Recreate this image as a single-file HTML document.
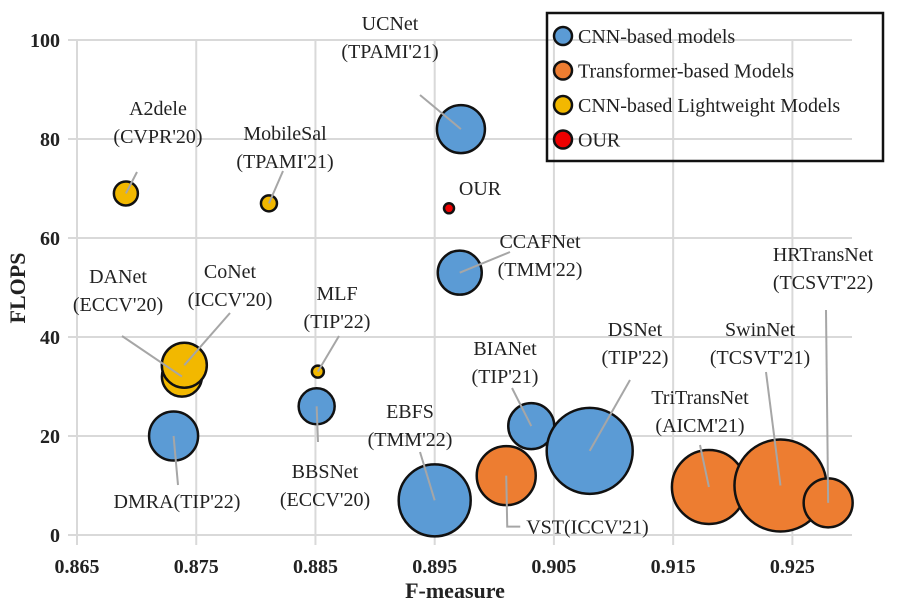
<!DOCTYPE html>
<html><head><meta charset="utf-8"><style>
body{margin:0;background:#fff}
svg{display:block;font-family:"Liberation Serif",serif}
.lbl{font-size:20px;fill:#222;text-anchor:middle}
.tk{font-size:20px;font-weight:bold;fill:#222}
</style></head><body>
<svg id="chart" width="897" height="606"></svg>
<script>
const names=["UCNet","CCAFNet","DMRA","BBSNet","EBFS","BIANet","DSNet","VST","TriTransNet","SwinNet","HRTransNet","A2dele","MobileSal","MLF","DANet","CoNet","OUR"];
const groups=["cnn","cnn","cnn","cnn","cnn","cnn","cnn","tr","tr","tr","tr","lw","lw","lw","lw","lw","our"];
const fmeasure=[0.8972,0.8971,0.8731,0.8851,0.8950,0.9031,0.9080,0.9010,0.9180,0.9240,0.9280,0.8691,0.8811,0.8852,0.8738,0.8740,0.8962];
const flops=[82,53,20,26,7,22,17,12,9.7,10,6.5,69,67,33,32,34.3,66];
const sizes=[24,22,24.5,18,36,23,43,29.5,37,46,24.5,12,8,6,20,22.5,5];
const xTicks=[0.865,0.875,0.885,0.895,0.905,0.915,0.925];
const yTicks=[0,20,40,60,80,100];
const colors={cnn:"#5b9bd5",tr:"#ed7d31",lw:"#f2b800",our:"#ee0000"};
const labels=[
 ["UCNet","(TPAMI'21)",390,30,[420,95]],
 ["CCAFNet","(TMM'22)",540,248,[510,252]],
 ["DMRA(TIP'22)",null,177,508,[178,485]],
 ["BBSNet","(ECCV'20)",325,478,[318,442]],
 ["EBFS","(TMM'22)",410,418,[420,452]],
 ["BIANet","(TIP'21)",505,355,[512,388]],
 ["DSNet","(TIP'22)",635,336,[630,380]],
 ["VST(ICCV'21)",null,0,0,null],
 ["TriTransNet","(AICM'21)",700,404,[700,445]],
 ["SwinNet","(TCSVT'21)",760,336,[766,372]],
 ["HRTransNet","(TCSVT'22)",823,261,[826,310]],
 ["A2dele","(CVPR'20)",158,115,[137,172]],
 ["MobileSal","(TPAMI'21)",285,140,[283,171]],
 ["MLF","(TIP'22)",337,300,[339,336]],
 ["DANet","(ECCV'20)",118,283,[122,336]],
 ["CoNet","(ICCV'20)",230,278,[230,313]],
 ["OUR",null,480,195,null]
];
const X0=77,X1=852,Y0=535,Y1=40;
const xs=v=>X0+(v-0.865)/(0.930-0.865)*(X1-X0);
const ys=v=>Y0-(v/100)*(Y0-Y1);
const svg=document.getElementById('chart');
const NS="http://www.w3.org/2000/svg";
function mk(t,a,p){const e=document.createElementNS(NS,t);for(const k in a)e.setAttribute(k,a[k]);(p||svg).appendChild(e);return e;}
yTicks.forEach(v=>{
 const l=mk('line',{x1:X0-9,x2:X1,y1:ys(v),y2:ys(v),stroke:'#d9d9d9','stroke-width':2});
 
 
 const t=mk('text',{x:X0-17,y:ys(v)+7,'text-anchor':'end',class:'tk'});t.textContent=v;
 
 
});
xTicks.forEach(v=>{
 const l=mk('line',{x1:xs(v),x2:xs(v),y1:Y1,y2:Y0+10,stroke:'#d9d9d9','stroke-width':2});
 
 
 const t=mk('text',{x:xs(v),y:Y0+38,'text-anchor':'middle',class:'tk'});t.textContent=v.toFixed(3);
 
 
});
names.forEach((n,i)=>{
 const c=mk('circle',{cx:xs(fmeasure[i]),cy:ys(flops[i]),r:sizes[i],fill:colors[groups[i]],stroke:'#111','stroke-width':2.5});
 
 
});
labels.forEach((L,i)=>{
 const cx=xs(fmeasure[i]),cy=ys(flops[i]);
 if(L[0].startsWith('VST')){
  const p=mk('polyline',{points:`${cx},${cy} ${cx+1},${cy+51} ${cx+14},${cy+51}`,fill:'none',stroke:'#a6a6a6','stroke-width':2});
  
  
  const t=mk('text',{x:cx+20,y:cy+58,class:'lbl'});t.textContent=L[0];
  t.style.textAnchor='start';
  
  
  return;
 }
 if(L[4]){
  const p=mk('line',{x1:L[4][0],y1:L[4][1],x2:cx,y2:cy,stroke:'#a6a6a6','stroke-width':2});
  
  
 }
 const t=mk('text',{x:L[2],y:L[3],class:'lbl'});t.textContent=L[0];
 
 
 if(L[1]){const t2=mk('text',{x:L[2],y:L[3]+28,class:'lbl'});t2.textContent=L[1];
 
 }
});
const xt=mk('text',{x:455,y:598,'text-anchor':'middle','font-size':'22','font-weight':'bold',fill:'#222'});xt.textContent='F-measure';


const yt=mk('text',{x:0,y:0,'text-anchor':'middle','font-size':'22','font-weight':'bold',fill:'#222',transform:'translate(25,288) rotate(-90)'});yt.textContent='FLOPS';


const lg=mk('rect',{x:547,y:13,width:336,height:148,fill:'none',stroke:'#111','stroke-width':2.5});


const legendLabels=["CNN-based models","Transformer-based Models","CNN-based Lightweight Models","OUR"];
const legendKeys=["cnn","tr","lw","our"];
legendLabels.forEach((s,i)=>{
 const y=36+i*34.5;
 const c=mk('circle',{cx:563,cy:y,r:9,fill:colors[legendKeys[i]],stroke:'#111','stroke-width':2.5});
 
 
 const t=mk('text',{x:578,y:y+7,'font-size':'20',fill:'#222'});t.textContent=s;
 
 
});
</script>
</body></html>
